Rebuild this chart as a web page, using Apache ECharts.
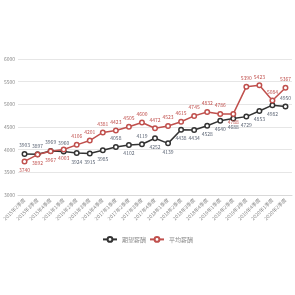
<!DOCTYPE html>
<html>
<head>
<meta charset="utf-8">
<script src="https://cdn.jsdelivr.net/npm/echarts@6/dist/echarts.min.js"></script>
<style>
  html, body { margin: 0; padding: 0; background: #fff; }
  #main { width: 295px; height: 295px; }
</style>
</head>
<body>
<div id="main"></div>
<script>
// 季度
var quarters = [
   '2015年2季度', '2015年3季度', '2015年4季度', '2016年1季度', '2016年2季度',
   '2016年3季度', '2016年4季度', '2017年1季度', '2017年2季度', '2017年3季度',
   '2017年4季度', '2018年1季度', '2018年2季度', '2018年3季度', '2018年4季度',
   '2019年1季度', '2019年2季度', '2019年3季度', '2019年4季度', '2020年1季度',
   '2020年2季度'
];
// 期望薪酬
var expectPay = [3903, 3897, 3969, 3960, 3924, 3915, 3985, 4058, 4102, 4119,
   4252, 4139, 4438, 4434, 4528, 4640, 4688, 4729, 4853, 4982, 4950];
// 平均薪酬
var avgPay = [3740, 3892, 3967, 4003, 4106, 4201, 4381, 4423, 4505, 4600,
   4472, 4523, 4615, 4745, 4832, 4786, 4788, 5390, 5423, 5084, 5367];

// 标签位置
var expectPos = ['top', 'top', 'top', 'top', 'bottom', 'bottom', 'bottom', 'top', 'bottom', 'top',
   'bottom', 'bottom', 'bottom', 'bottom', 'bottom', 'bottom', 'bottom', 'bottom', 'bottom', 'bottom', 'top'];
var avgPos = ['bottom', 'bottom', 'bottom', 'bottom', 'top', 'top', 'top', 'top', 'top', 'top',
   'top', 'top', 'top', 'top', 'top', 'top', 'bottom', 'top', 'top', 'top', 'top'];

function withPos(values, pos) {
   var out = [];
   for (var i = 0; i < values.length; i++) {
      out.push({ value: values[i], label: { position: pos[i] } });
   }
   return out;
}

var chart = echarts.init(document.getElementById('main'));
var opt = {
   animation: false,
   textStyle: { fontFamily: 'Noto Sans CJK SC' },
   grid: { left: 18, right: 3, top: 59, height: 136 },
   legend: {
      data: ['期望薪酬', '平均薪酬'],
      left: 'center',
      top: 231,
      itemWidth: 14,
      itemHeight: 6,
      itemGap: 3,
      textStyle: { fontSize: 6, color: '#888' }
   },
   xAxis: {
      type: 'category',
      data: quarters,
      axisLine: { lineStyle: { color: '#d9d9d9' } },
      axisTick: { show: false },
      axisLabel: { rotate: 45, fontSize: 5, color: '#888', margin: 4, interval: 0 }
   },
   yAxis: {
      type: 'value',
      min: 3000,
      max: 6000,
      interval: 500,
      axisLine: { show: false },
      axisTick: { show: false },
      splitLine: { lineStyle: { color: '#e6e6e6' } },
      axisLabel: {
         fontSize: 5, color: '#888', margin: 3,
         formatter: function (v) { return String(v); }
      }
   },
   series: [{
      name: '期望薪酬',
      type: 'line',
      data: withPos(expectPay, expectPos),
      symbol: 'circle',
      symbolSize: 4.5,
      lineStyle: { color: '#333', width: 1.5 },
      itemStyle: { color: '#fff', borderColor: '#333', borderWidth: 1.5 },
      label: { show: true, fontSize: 5, color: '#5b6474', distance: 3 }
   }, {
      name: '平均薪酬',
      type: 'line',
      data: withPos(avgPay, avgPos),
      symbol: 'circle',
      symbolSize: 4.5,
      lineStyle: { color: '#c0504d', width: 1.5 },
      itemStyle: { color: '#fff', borderColor: '#c0504d', borderWidth: 1.5 },
      label: { show: true, fontSize: 5, color: '#c0504d', distance: 3 }
   }]
};
chart.setOption(opt);
</script>
</body>
</html>
